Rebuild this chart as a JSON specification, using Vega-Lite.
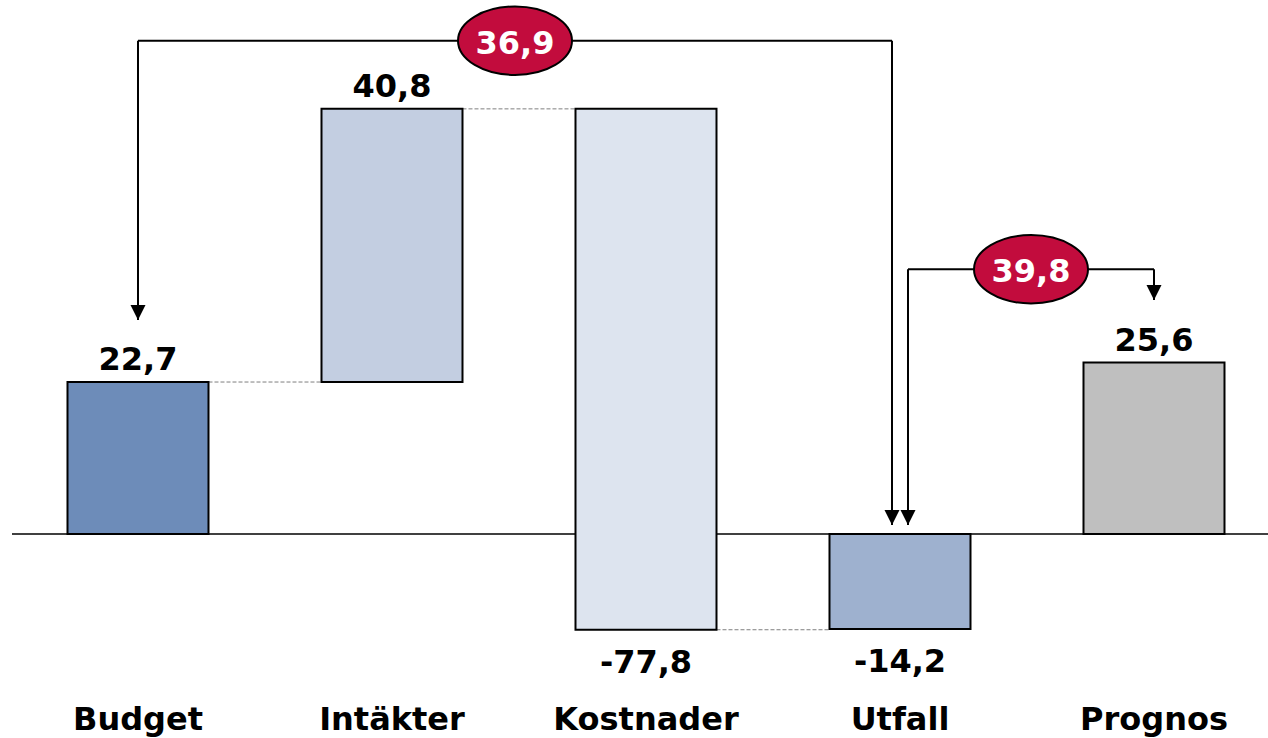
{
  "$schema": "https://vega.github.io/schema/vega-lite/v6.json",
  "width": 1256,
  "height": 738,
  "autosize": {"type": "none"},
  "padding": {"left": 12, "right": 0, "top": 0, "bottom": 0},
  "background": "white",
  "config": {"view": {"stroke": null}, "text": {"font": "DejaVu Sans", "fontWeight": "bold", "fontSize": 32}},
  "datasets": {
    "bars": [
      {"cat": "Budget", "y0": 0, "y1": 22.7, "label": "22,7"},
      {"cat": "Intäkter", "y0": 22.7, "y1": 63.5, "label": "40,8"},
      {"cat": "Kostnader", "y0": 63.5, "y1": -14.3, "label": "-77,8"},
      {"cat": "Utfall", "y0": 0, "y1": -14.2, "label": "-14,2"},
      {"cat": "Prognos", "y0": 0, "y1": 25.6, "label": "25,6"}
    ],
    "connectors": [
      {"from": "Budget", "to": "Intäkter", "level": 22.7},
      {"from": "Intäkter", "to": "Kostnader", "level": 63.5},
      {"from": "Kostnader", "to": "Utfall", "level": -14.3}
    ],
    "zero": [{"level": 0}],
    "vcenter": [
      {"cat": "Budget", "top": 73.68, "bottom": 31.96},
      {"cat": "Prognos", "top": 39.54, "bottom": 34.95}
    ],
    "vleft": [{"cat": "Utfall", "top": 73.68, "bottom": 1.34}],
    "vright": [{"cat": "Utfall", "top": 39.54, "bottom": 1.34}],
    "h1": [{"from": "Budget", "to": "Utfall", "level": 73.68}],
    "h2": [{"from": "Utfall", "to": "Prognos", "level": 39.54}],
    "e1": [{"cat": "Intäkter", "level": 73.68, "label": "36,9"}],
    "e2": [{"cat": "Utfall", "level": 39.54, "label": "39,8"}]
  },
  "layer": [
    {
      "data": {"name": "connectors"},
      "mark": {"type": "rule", "color": "#7f7f7f", "strokeWidth": 1, "strokeDash": [4, 2], "xOffset": 70.5, "x2Offset": -70.5},
      "encoding": {
        "x": {"field": "from", "type": "nominal", "axis": null, "scale": {"type": "band", "domain": ["Budget", "Intäkter", "Kostnader", "Utfall", "Prognos"], "paddingInner": 0.44488, "paddingOuter": 0.19488, "align": 0.5606}},
        "x2": {"field": "to"},
        "y": {"field": "level", "type": "quantitative", "axis": null, "scale": {"domain": [-30.47, 79.76], "nice": false, "zero": false}}
      }
    },
    {
      "data": {"name": "zero"},
      "mark": {"type": "rule", "color": "black", "strokeWidth": 1.5},
      "encoding": {"y": {"field": "level", "type": "quantitative"}}
    },
    {
      "data": {"name": "bars"},
      "mark": {"type": "bar", "stroke": "black", "strokeWidth": 2},
      "encoding": {
        "x": {"field": "cat", "type": "nominal"},
        "y": {"field": "y0", "type": "quantitative"},
        "y2": {"field": "y1"},
        "fill": {"field": "cat", "type": "nominal", "legend": null, "scale": {"domain": ["Budget", "Intäkter", "Kostnader", "Utfall", "Prognos"], "range": ["#6d8cb9", "#c3cee1", "#dde4ef", "#9eb1cf", "#bfbfbf"]}}
      }
    },
    {
      "data": {"name": "bars"},
      "transform": [{"filter": "datum.y1 >= datum.y0"}],
      "mark": {"type": "text", "baseline": "alphabetic", "dy": -12, "color": "black"},
      "encoding": {
        "x": {"field": "cat", "type": "nominal"},
        "y": {"field": "y1", "type": "quantitative"},
        "text": {"field": "label"}
      }
    },
    {
      "data": {"name": "bars"},
      "transform": [{"filter": "datum.y1 < datum.y0"}],
      "mark": {"type": "text", "baseline": "alphabetic", "dy": 43, "color": "black"},
      "encoding": {
        "x": {"field": "cat", "type": "nominal"},
        "y": {"field": "y1", "type": "quantitative"},
        "text": {"field": "label"}
      }
    },
    {
      "data": {"name": "bars"},
      "mark": {"type": "text", "baseline": "alphabetic", "color": "black"},
      "encoding": {
        "x": {"field": "cat", "type": "nominal"},
        "y": {"datum": -29.28, "type": "quantitative"},
        "text": {"field": "cat"}
      }
    },
    {
      "data": {"name": "vcenter"},
      "mark": {"type": "rule", "color": "black", "strokeWidth": 2},
      "encoding": {
        "x": {"field": "cat", "type": "nominal"},
        "y": {"field": "top", "type": "quantitative"},
        "y2": {"field": "bottom"}
      }
    },
    {
      "data": {"name": "vleft"},
      "mark": {"type": "rule", "color": "black", "strokeWidth": 2, "xOffset": -8},
      "encoding": {
        "x": {"field": "cat", "type": "nominal"},
        "y": {"field": "top", "type": "quantitative"},
        "y2": {"field": "bottom"}
      }
    },
    {
      "data": {"name": "vright"},
      "mark": {"type": "rule", "color": "black", "strokeWidth": 2, "xOffset": 8},
      "encoding": {
        "x": {"field": "cat", "type": "nominal"},
        "y": {"field": "top", "type": "quantitative"},
        "y2": {"field": "bottom"}
      }
    },
    {
      "data": {"name": "h1"},
      "mark": {"type": "rule", "color": "black", "strokeWidth": 2, "x2Offset": -8},
      "encoding": {
        "x": {"field": "from", "type": "nominal"},
        "x2": {"field": "to"},
        "y": {"field": "level", "type": "quantitative"}
      }
    },
    {
      "data": {"name": "h2"},
      "mark": {"type": "rule", "color": "black", "strokeWidth": 2, "xOffset": 8},
      "encoding": {
        "x": {"field": "from", "type": "nominal"},
        "x2": {"field": "to"},
        "y": {"field": "level", "type": "quantitative"}
      }
    },
    {
      "data": {"name": "vcenter"},
      "mark": {"type": "point", "shape": "M-1,-2L1,-2L0,0Z", "size": 225, "filled": true, "color": "black", "opacity": 1},
      "encoding": {
        "x": {"field": "cat", "type": "nominal"},
        "y": {"field": "bottom", "type": "quantitative"}
      }
    },
    {
      "data": {"name": "vleft"},
      "mark": {"type": "point", "shape": "M-1,-2L1,-2L0,0Z", "size": 225, "filled": true, "color": "black", "opacity": 1, "xOffset": -8},
      "encoding": {
        "x": {"field": "cat", "type": "nominal"},
        "y": {"field": "bottom", "type": "quantitative"}
      }
    },
    {
      "data": {"name": "vright"},
      "mark": {"type": "point", "shape": "M-1,-2L1,-2L0,0Z", "size": 225, "filled": true, "color": "black", "opacity": 1, "xOffset": 8},
      "encoding": {
        "x": {"field": "cat", "type": "nominal"},
        "y": {"field": "bottom", "type": "quantitative"}
      }
    },
    {
      "data": {"name": "e1"},
      "layer": [
        {
          "mark": {"type": "point", "shape": "M-1,0C-1,-0.331 -0.552,-0.6 0,-0.6C0.552,-0.6 1,-0.331 1,0C1,0.331 0.552,0.6 0,0.6C-0.552,0.6 -1,0.331 -1,0Z", "size": 12996, "filled": true, "fill": "#c20c3d", "stroke": "black", "strokeWidth": 2, "opacity": 1, "xOffset": 123},
          "encoding": {
            "x": {"field": "cat", "type": "nominal"},
            "y": {"field": "level", "type": "quantitative"}
          }
        },
        {
          "mark": {"type": "text", "color": "white", "baseline": "middle", "dy": 3, "xOffset": 123},
          "encoding": {
            "x": {"field": "cat", "type": "nominal"},
            "y": {"field": "level", "type": "quantitative"},
            "text": {"field": "label"}
          }
        }
      ]
    },
    {
      "data": {"name": "e2"},
      "layer": [
        {
          "mark": {"type": "point", "shape": "M-1,0C-1,-0.331 -0.552,-0.6 0,-0.6C0.552,-0.6 1,-0.331 1,0C1,0.331 0.552,0.6 0,0.6C-0.552,0.6 -1,0.331 -1,0Z", "size": 12996, "filled": true, "fill": "#c20c3d", "stroke": "black", "strokeWidth": 2, "opacity": 1, "xOffset": 131},
          "encoding": {
            "x": {"field": "cat", "type": "nominal"},
            "y": {"field": "level", "type": "quantitative"}
          }
        },
        {
          "mark": {"type": "text", "color": "white", "baseline": "middle", "dy": 3, "xOffset": 131},
          "encoding": {
            "x": {"field": "cat", "type": "nominal"},
            "y": {"field": "level", "type": "quantitative"},
            "text": {"field": "label"}
          }
        }
      ]
    }
  ]
}
